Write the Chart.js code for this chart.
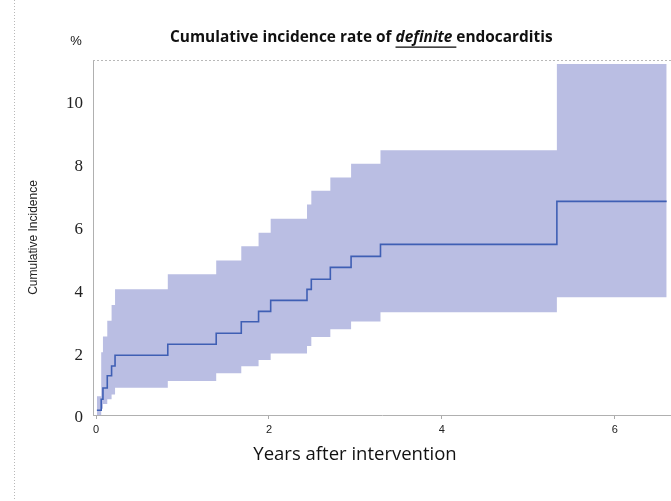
<!DOCTYPE html>
<html>
<head>
<meta charset="utf-8">
<script src="https://cdn.jsdelivr.net/npm/chart.js@4"></script>
<style>
  html, body { margin: 0; padding: 0; background: #fff; }
  #wrap { width: 671px; height: 501px; }
</style>
</head>
<body>
<div id="wrap"><canvas id="cif"></canvas></div>
<script>
// step times (years) and cumulative incidence (%)
const times = [0.01, 0.06, 0.08, 0.13, 0.18, 0.22, 0.83, 1.39, 1.68, 1.88, 2.02, 2.44, 2.49, 2.71, 2.95, 3.29, 5.33];
const incidence = [0.15, 0.5, 0.86, 1.25, 1.56, 1.9, 2.25, 2.6, 2.97, 3.3, 3.65, 4.0, 4.32, 4.7, 5.05, 5.43, 6.8];
const upperCI = [0.6, 2.0, 2.5, 3.0, 3.5, 4.0, 4.48, 4.92, 5.37, 5.8, 6.25, 6.7, 7.14, 7.56, 8.0, 8.43, 11.17];
const lowerCI = [0.0, 0.2, 0.35, 0.5, 0.65, 0.87, 1.08, 1.33, 1.55, 1.75, 1.96, 2.2, 2.48, 2.73, 2.98, 3.27, 3.75];
const endTime = 6.6;
const xTicks = [0, 2, 4, 6];
const yTicks = [0, 2, 4, 6, 8, 10];

function steps(vals) {
  const pts = times.map((t, i) => ({ x: t, y: vals[i] }));
  pts.push({ x: endTime, y: vals[vals.length - 1] });
  return pts;
}

// title with mixed styles, % label, x title, y labels, page edge line, top border of plot
const decor = {
  id: 'decor',
  afterDraw(chart) {
    const ctx = chart.ctx;
    const area = chart.chartArea;
    ctx.save();
    ctx.strokeStyle = '#b8b8b8';
    ctx.lineWidth = 1;
    ctx.setLineDash([1, 2]);
    ctx.beginPath();
    ctx.moveTo(14.5, 0); ctx.lineTo(14.5, 501);
    ctx.stroke();
    ctx.setLineDash([2, 2]);
    ctx.beginPath();
    ctx.moveTo(area.left, area.top + 0.5); ctx.lineTo(area.right, area.top + 0.5);
    ctx.stroke();
    ctx.setLineDash([]);

    ctx.fillStyle = '#111';
    ctx.textBaseline = 'middle';
    ctx.font = '13px "Liberation Sans"';
    ctx.textAlign = 'center';
    ctx.fillText('%', 76, 41);

    ctx.font = '18.5px "Open Sans"';
    ctx.fillText('Years after intervention', 355, 455);

    // y tick labels (serif digits sit a bit low in the original)
    const ys = chart.scales.y;
    ctx.fillStyle = '#222';
    ctx.font = '17px "Liberation Serif"';
    ctx.textAlign = 'right';
    yTicks.forEach(v => ctx.fillText(String(v), 83, ys.getPixelForValue(v) + 3));

    const parts = [
      { t: 'Cumulative incidence rate of ', s: 'bold' },
      { t: 'definite ', s: 'italic bold', u: true },
      { t: 'endocarditis', s: 'bold' }
    ];
    const widthOf = sz => parts.reduce((w, p) => {
      ctx.font = p.s + ' ' + sz + 'px "Open Sans"';
      return w + ctx.measureText(p.t).width;
    }, 0);
    const size = 14 * 383 / widthOf(14);
    let x = 170;
    const y = 38;
    ctx.fillStyle = '#111';
    ctx.textAlign = 'left';
    parts.forEach(p => {
      ctx.font = p.s + ' ' + size + 'px "Open Sans"';
      const w = ctx.measureText(p.t).width;
      ctx.fillText(p.t, x, y);
      if (p.u) {
        ctx.fillRect(x, y + size * 0.55, w, 1.3);
      }
      x += w;
    });
    ctx.restore();
  }
};

new Chart(document.getElementById('cif'), {
  type: 'line',
  data: {
    datasets: [
      {
        label: 'Cumulative incidence',
        data: steps(incidence),
        stepped: 'before',
        borderColor: '#3f5fb4',
        borderWidth: 1.6,
        pointRadius: 0,
        fill: false
      },
      {
        label: 'Upper',
        data: steps(upperCI),
        stepped: 'before',
        borderWidth: 0,
        borderColor: 'rgba(0,0,0,0)',
        pointRadius: 0,
        backgroundColor: 'rgb(186,190,227)',
        fill: '+1'
      },
      {
        label: 'Lower',
        data: steps(lowerCI),
        stepped: 'before',
        borderWidth: 0,
        borderColor: 'rgba(0,0,0,0)',
        pointRadius: 0,
        fill: false
      }
    ]
  },
  options: {
    responsive: true,
    maintainAspectRatio: false,
    animation: false,
    layout: { padding: { left: 0, top: 60, right: 0, bottom: 0 } },
    plugins: { legend: { display: false }, tooltip: { enabled: false } },
    scales: {
      x: {
        type: 'linear',
        min: -0.035,
        max: 6.65,
        afterFit: s => { s.height = 86; },
        afterBuildTicks: s => { s.ticks = xTicks.map(v => ({ value: v })); },
        grid: { display: true, drawOnChartArea: false, drawTicks: true, tickLength: 4, color: '#aaa' },
        border: { display: true, color: '#b0b0b0', dash: [2, 2] },
        ticks: { color: '#222', font: { family: '"Liberation Sans"', size: 11 }, padding: 4, maxRotation: 0 }
      },
      y: {
        min: 0,
        max: 11.3,
        afterFit: s => { s.width = 93; },
        afterBuildTicks: s => { s.ticks = yTicks.map(v => ({ value: v })); },
        grid: { display: false },
        border: { display: true, color: '#b0b0b0', dash: [2, 2] },
        ticks: { display: false },
        title: {
          display: true,
          text: 'Cumulative Incidence',
          color: '#222',
          font: { family: '"Liberation Sans"', size: 12 },
          padding: { top: 26, bottom: 0 }
        }
      }
    }
  },
  plugins: [decor]
});
</script>
</body>
</html>
